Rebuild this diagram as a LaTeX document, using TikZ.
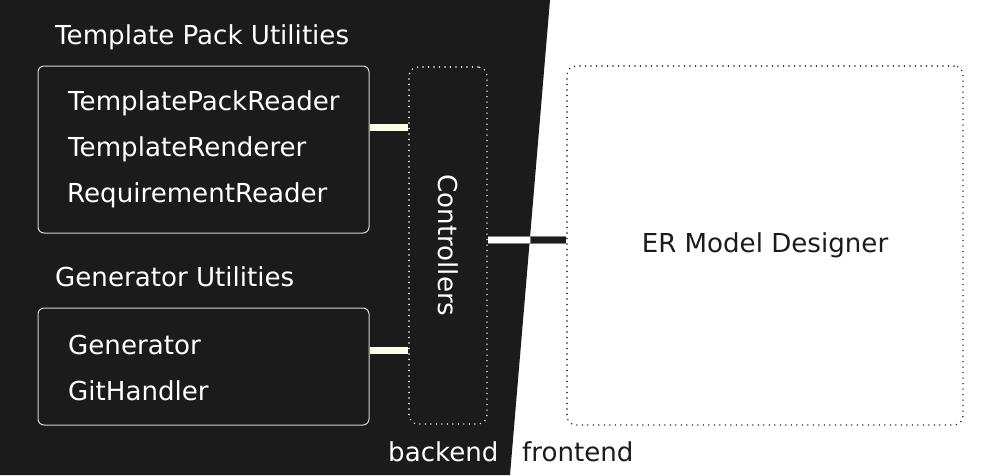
\documentclass[tikz,border=0pt]{standalone}
\usepackage{fontspec}
\setmainfont{DejaVu Sans}
\usetikzlibrary{positioning}

\definecolor{panel}{HTML}{1B1B1B}
\definecolor{cream}{HTML}{FFFCE8}
\definecolor{rim}{HTML}{D8D6C8}

\tikzset{
  caption/.style={font=\fontsize{26.1}{30}\selectfont, anchor=base west, inner sep=0pt},
  utilbox/.style={draw=rim, line width=1pt, rounded corners=6pt, inner sep=0pt},
  dotbox/.style={line width=1.6pt, dash pattern=on 0pt off 5.5pt, line cap=round, rounded corners=9pt, inner sep=0pt},
  link/.style={line width=7pt, cream},
}

\begin{document}
\begin{tikzpicture}[x=1pt, y=-1pt]

\useasboundingbox (0,0) rectangle (1002,475);

% Backend panel
\fill[panel] (0,0) -- (550,0) -- (510,475) -- (0,475) -- cycle;

% Utility boxes
\node[utilbox, minimum width=331pt, minimum height=167pt] (tpu) at (203.5,149.5) {};
\node[utilbox, minimum width=331pt, minimum height=117pt] (gu) at (203.5,366.5) {};

% Controllers and designer
\node[dotbox, draw=white, minimum width=78pt, minimum height=357pt] (ctrl) at (448,245.5) {};
\node[dotbox, draw=panel, minimum width=396pt, minimum height=359pt] (erd) at (765,245.5) {};

% Labels
\node[caption, white] (tpuTitle) at (55,44) {Template Pack Utilities};
\node[caption, white] (packReader) at (68,110) {TemplatePackReader};
\node[caption, white] (renderer) at (68,156) {TemplateRenderer};
\node[caption, white] (reqReader) at (67,202) {RequirementReader};
\node[caption, white] (guTitle) at (55,286) {Generator Utilities};
\node[caption, white] (generator) at (68,354) {Generator};
\node[caption, white] (gitHandler) at (68,400) {GitHandler};
\node[caption, white, anchor=center, rotate=-90] (ctrlText) at (ctrl.center) {Controllers};
\node[caption, panel, anchor=center] (erdText) at (erd.center) {ER Model Designer};
\node[caption, white] (backend) at (388,461) {backend};
\node[caption, panel] (frontend) at (522,461) {frontend};

% Links
\coordinate (split) at (530,240);
\draw[link] (tpu.east |- 0,127) -- (ctrl.west |- 0,127);
\draw[link] (gu.east |- 0,350) -- (ctrl.west |- 0,350);
\draw[line width=8pt, gray] (ctrl.east |- split) -- (erd.west |- split);
\draw[line width=6pt, white] (ctrl.east |- split) -- ([xshift=-0.5pt]split);
\draw[line width=6pt, panel] ([xshift=0.5pt]split) -- (erd.west |- split);

\end{tikzpicture}
\end{document}
